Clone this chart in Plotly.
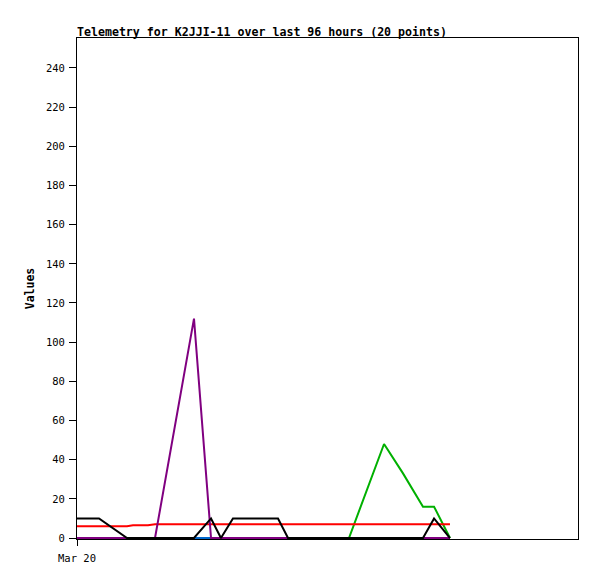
import plotly.graph_objects as go

times = [
    "2024-03-20 00:00", "2024-03-20 04:13", "2024-03-20 09:35", "2024-03-20 10:44",
    "2024-03-20 13:36", "2024-03-20 14:57", "2024-03-20 22:25", "2024-03-21 01:41",
    "2024-03-21 03:35", "2024-03-21 05:53", "2024-03-21 14:31", "2024-03-21 16:26",
    "2024-03-21 20:39", "2024-03-22 00:29", "2024-03-22 04:07", "2024-03-22 10:50",
    "2024-03-22 14:28", "2024-03-22 18:18", "2024-03-22 20:25", "2024-03-22 23:28",
]
blue_vals = [0] * 20
red_vals = [6, 6, 6, 6.5, 6.5, 7, 7, 7, 7, 7, 7, 7, 7, 7, 7, 7, 7, 7, 7, 7]
green_vals = [0, 0, 0, 0, 0, 0, 0, 0, 0, 0, 0, 0, 0, 0, 0, 48, 33, 16, 16, 0]
purple_vals = [0, 0, 0, 0, 0, 0, 112, 0, 0, 0, 0, 0, 0, 0, 0, 0, 0, 0, 0, 0]
black_vals = [10, 10, 0, 0, 0, 0, 0, 10, 0, 10, 10, 0, 0, 0, 0, 0, 0, 0, 10, 0]

y_ticks = list(range(0, 241, 20))

series = [
    ("green", green_vals, "#00B000"),
    ("blue", blue_vals, "#0066CC"),
    ("red", red_vals, "#FF0000"),
    ("purple", purple_vals, "#800080"),
    ("black", black_vals, "#000000"),
]

fig = go.Figure()
for name, vals, col in series:
    fig.add_trace(go.Scatter(x=times, y=vals, mode="lines", name=name,
                             line=dict(color=col, width=2), showlegend=False))

# page has an 8px body margin, so the figure is sized/offset to compensate
W, H = 589, 571
mono = "DejaVu Sans Mono"
fig.update_layout(
    width=W, height=H,
    margin=dict(l=69, r=19, t=30, b=40, autoexpand=False),
    paper_bgcolor="white", plot_bgcolor="white",
    title=dict(text="<b>Telemetry for K2JJI-11 over last 96 hours (20 points)</b>",
               x=69 / W, xanchor="left", y=1 - 23.5 / H, yanchor="middle",
               font=dict(family=mono, size=11.6, color="black")),
    xaxis=dict(
        type="date", automargin=False,
        range=["2024-03-20 00:00", "2024-03-24 00:00"],
        tickvals=["2024-03-20 00:00"], ticktext=["Mar 20"],
        ticks="outside", ticklen=6, tickcolor="black", ticklabelstandoff=3,
        showgrid=False, zeroline=False,
        showline=True, linecolor="black", linewidth=1, mirror=True,
        tickfont=dict(family=mono, size=10.5, color="black"),
    ),
    yaxis=dict(
        automargin=False,
        range=[-0.5, 255.3],
        tickvals=y_ticks,
        ticks="outside", ticklen=7, tickcolor="black", ticklabelstandoff=2,
        showgrid=False, zeroline=False,
        showline=True, linecolor="black", linewidth=1, mirror=True,
        tickfont=dict(family=mono, size=10.5, color="black"),
        title=dict(text="<b>Values</b>", font=dict(family=mono, size=11.5, color="black"),
                   standoff=8),
    ),
)

fig.write_html("out.html")
